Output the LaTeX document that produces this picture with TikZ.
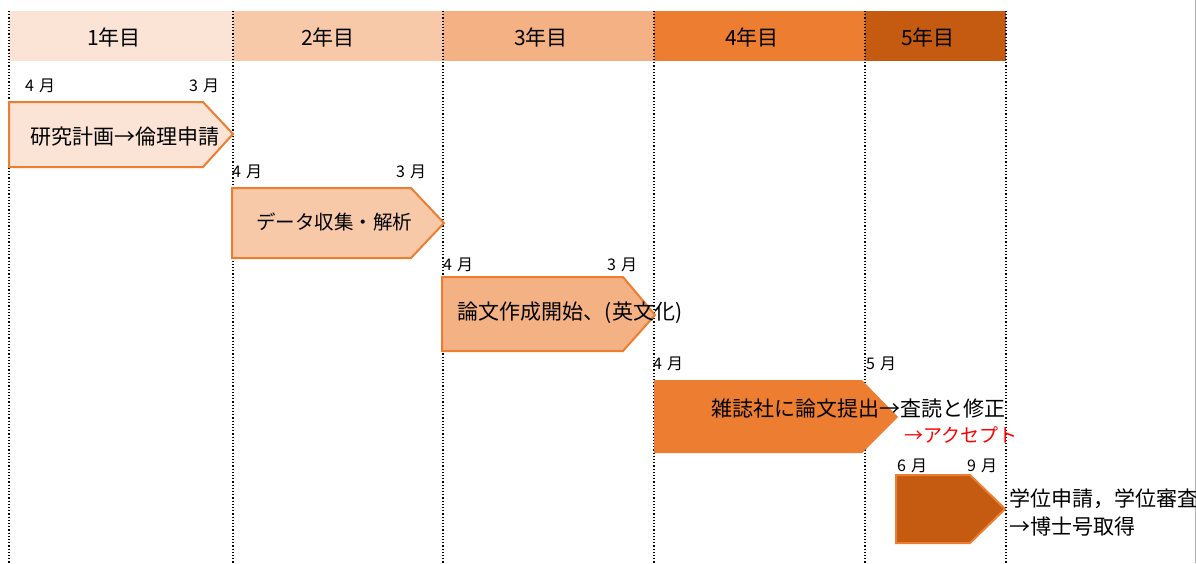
\documentclass[tikz,border=0pt]{standalone}
\usepackage{fontspec}
\setmainfont{Noto Sans CJK JP}
\definecolor{cA}{HTML}{FBE3D6}
\definecolor{cB}{HTML}{F7C9A9}
\definecolor{cC}{HTML}{F4B183}
\definecolor{cD}{HTML}{ED7D31}
\definecolor{cE}{HTML}{C55A11}
\definecolor{redtxt}{HTML}{FF0000}
\begin{document}
\begin{tikzpicture}[x=1pt,y=-1pt,
  hdr/.style={font=\fontsize{21}{23}\selectfont, text=black, inner sep=0pt},
  mon/.style={font=\fontsize{16}{18}\selectfont, text=black, inner sep=0pt, anchor=west},
  lbl/.style={font=\fontsize{21}{24}\selectfont, text=black, inner sep=0pt},
  sep/.style={black, dotted, line width=1.2pt},
  bar/.style={draw=cD, line width=2pt, line join=miter},
]
\useasboundingbox (0,0) rectangle (1196,563);
% header
\fill[cA] (9,11) rectangle (233,61);
\fill[cB] (233,11) rectangle (443,61);
\fill[cC] (443,11) rectangle (654,61);
\fill[cD] (654,11) rectangle (865,61);
\fill[cE] (865,11) rectangle (1006,61);
\node[hdr] (y1) at (114,37) {1年目};
\node[hdr] (y2) at (328,37) {2年目};
\node[hdr] (y3) at (541,37) {3年目};
\node[hdr] (y4) at (752,37) {4年目};
\node[hdr] (y5) at (928,37) {5年目};
% separators
\foreach \x in {9,233,443,654,865,1006} \draw[sep] (\x,11) -- (\x,563);
\draw[gray!60, line width=0.8pt] (1195.5,0) -- (1195.5,563);
% month labels
\node[mon] (m1a) at (25,86) {4\hspace{5pt}月};
\node[mon] (m1b) at (189,86) {3\hspace{5pt}月};
\node[mon] (m2a) at (232,172) {4\hspace{5pt}月};
\node[mon] (m2b) at (396,172) {3\hspace{5pt}月};
\node[mon] (m3a) at (443,265) {4\hspace{5pt}月};
\node[mon] (m3b) at (607,265) {3\hspace{5pt}月};
\node[mon] (m4a) at (653,364) {4\hspace{5pt}月};
\node[mon] (m4b) at (866,364) {5\hspace{5pt}月};
\node[mon] (m5a) at (897,466) {6\hspace{5pt}月};
\node[mon] (m5b) at (967,466) {9\hspace{5pt}月};
% bars
\draw[bar, fill=cA] (9,102) -- (203,102) -- (233,134) -- (203,167) -- (9,167) -- cycle;
\draw[bar, fill=cB] (232,188) -- (411,188) -- (444,223) -- (411,258) -- (232,258) -- cycle;
\draw[bar, fill=cC] (442,277) -- (623,277) -- (655,315) -- (623,351) -- (442,351) -- cycle;
\fill[cD] (654,380) -- (862,380) -- (898,417) -- (862,453) -- (654,453) -- cycle;
\draw[bar, fill=cE] (896,475) -- (970,475) -- (1005,509) -- (970,543) -- (896,543) -- cycle;
% texts
\node[lbl] (t1) at (125,137) {研究計画→倫理申請};
\node[lbl, font=\fontsize{19.5}{22}\selectfont] (t2) at (334,222) {データ収集・解析};
\node[lbl] (t3) at (570,313) {論文作成開始、(英文化)};
\node[lbl] (t4) at (858,408) {雑誌社に論文提出→査読と修正};
\node[lbl, text=redtxt, anchor=west, font=\fontsize{19}{22}\selectfont] (t5) at (904,435) {→アクセプト};
\node[lbl, anchor=west] (t6) at (1009,499) {学位申請，学位審査};
\node[lbl, anchor=west] (t7) at (1009,527) {→博士号取得};
\end{tikzpicture}
\end{document}
